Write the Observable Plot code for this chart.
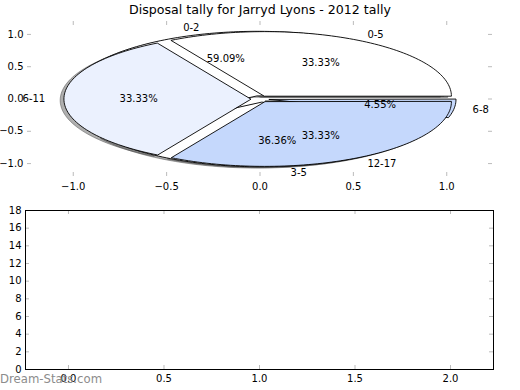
<!DOCTYPE html>
<html><head><meta charset="utf-8">
<script src="https://cdn.jsdelivr.net/npm/d3@7"></script>
<script src="https://cdn.jsdelivr.net/npm/@observablehq/plot@0.6"></script>
<style>
body{margin:0;background:#fff;}
#wrap{position:relative;width:520px;height:390px;font-family:"DejaVu Sans",sans-serif;color:#000;}
#wrap svg{position:absolute;left:0;overflow:visible;}
#title{position:absolute;left:0;width:520px;top:2px;text-align:center;font-size:12.6px;line-height:16px;}
#mark{position:absolute;left:0;top:372px;font-size:11.7px;line-height:14px;color:#8c8c8c;z-index:2;}
</style>
</head><body>
<div id="wrap"><div id="title">Disposal tally for Jarryd Lyons - 2012 tally</div><div id="mark">Dream-Stats.com</div></div>
<script>
// Data
const title = "Disposal tally for Jarryd Lyons - 2012 tally";
const pieALabels = ["0-2", "3-5", "6-8"];
const pieAValues = [13, 8, 1];
const pieAColors = ["#ffffff", "#ffffff", "#c5d8fc"];
const pieBLabels = ["0-5", "6-11", "12-17"];
const pieBValues = [1, 1, 1];
const pieBColors = ["#ffffff", "#ebf1fe", "#c5d8fc"];
const explode = 0.05;
const xTicksTop = [-1, -0.5, 0, 0.5, 1];
const yTicksTop = [-1, -0.5, 0, 0.5, 1];
const xTicksBottom = [0, 0.5, 1, 1.5, 2];
const yTicksBottom = [0, 2, 4, 6, 8, 10, 12, 14, 16, 18];

function wedges(labels, values, colors) {
  const total = d3.sum(values);
  let acc = 0;
  return labels.map((label, i) => {
    const t1 = acc / total * 360; acc += values[i]; const t2 = acc / total * 360;
    const tm = (t1 + t2) / 2 * Math.PI / 180;
    const cx = explode * Math.cos(tm), cy = explode * Math.sin(tm);
    const n = Math.max(4, Math.ceil((t2 - t1) / 1.5));
    const pts = [{x: cx, y: cy}];
    for (let k = 0; k <= n; k++) {
      const a = (t1 + (t2 - t1) * k / n) * Math.PI / 180;
      pts.push({x: cx + Math.cos(a), y: cy + Math.sin(a)});
    }
    return {
      label, color: colors[i], pts,
      pct: d3.format(".2f")(values[i] / total * 100) + "%",
      lx: cx + 1.1 * Math.cos(tm), ly: cy + 1.1 * Math.sin(tm),
      px: cx + 0.6 * Math.cos(tm), py: cy + 0.6 * Math.sin(tm)
    };
  });
}
const A = wedges(pieALabels, pieAValues, pieAColors);
const B = wedges(pieBLabels, pieBValues, pieBColors);
const all = A.concat(B);

const tickColor = "#bbbbbb";
const fmt = d3.format(".1f");

// Top panel (pie)
const topW = 520, topH = 190, tm = {top: 21, right: 28, bottom: 14, left: 27};
const tIH = topH - tm.top - tm.bottom, tIW = topW - tm.left - tm.right;
const shadowMarks = all.map(w => Plot.line(w.pts, {
  x: d => d.x - 0.02, y: d => d.y - 0.02, curve: "linear-closed",
  fill: "#4d4d4d", fillOpacity: 0.45, stroke: "#4d4d4d", strokeOpacity: 0.5, strokeWidth: 1
}));
const wedgeMarks = all.map(w => Plot.line(w.pts, {
  x: "x", y: "y", curve: "linear-closed", fill: w.color, stroke: "black", strokeWidth: 0.9
}));
const topPlot = Plot.plot({
  width: topW, height: topH,
  marginTop: tm.top, marginRight: tm.right, marginBottom: tm.bottom, marginLeft: tm.left,
  style: {fontFamily: "DejaVu Sans", fontSize: "10px", background: "transparent", overflow: "visible"},
  x: {domain: [-1.245, 1.245], ticks: xTicksTop, tickFormat: fmt, tickSize: 0, tickPadding: 6, label: null},
  y: {domain: [-1.2, 1.2], ticks: yTicksTop, tickFormat: fmt, tickSize: 0, tickPadding: 4, label: null},
  marks: [
    Plot.ruleX(xTicksTop, {x: d => d, insetBottom: tIH - 4, stroke: tickColor}),
    Plot.ruleX(xTicksTop, {x: d => d, insetTop: tIH - 4, stroke: tickColor}),
    Plot.ruleY(yTicksTop, {y: d => d, insetRight: tIW - 4, stroke: tickColor}),
    Plot.ruleY(yTicksTop, {y: d => d, insetLeft: tIW - 4, stroke: tickColor}),
    ...shadowMarks,
    ...wedgeMarks,
    Plot.text(all.filter(w => w.lx > 0), {x: "lx", y: "ly", text: "label", textAnchor: "start", fontSize: 10}),
    Plot.text(all.filter(w => w.lx <= 0), {x: "lx", y: "ly", text: "label", textAnchor: "end", fontSize: 10}),
    Plot.text(all, {x: "px", y: "py", text: "pct", textAnchor: "middle", fontSize: 10})
  ]
});
topPlot.style.top = "0px";

// Bottom panel (empty axes)
const botW = 520, botH = 200, bm = {top: 20, right: 27, bottom: 21, left: 25};
const bIH = botH - bm.top - bm.bottom, bIW = botW - bm.left - bm.right;
const botPlot = Plot.plot({
  width: botW, height: botH,
  marginTop: bm.top, marginRight: bm.right, marginBottom: bm.bottom, marginLeft: bm.left,
  style: {fontFamily: "DejaVu Sans", fontSize: "10px", background: "transparent", overflow: "visible"},
  x: {domain: [-0.225, 2.225], ticks: xTicksBottom, tickFormat: fmt, tickSize: 0, tickPadding: 5, label: null},
  y: {domain: [0, 18], ticks: yTicksBottom, tickFormat: d3.format("d"), tickSize: 0, tickPadding: 4, label: null},
  marks: [
    Plot.ruleX(xTicksBottom, {x: d => d, insetBottom: bIH - 4, stroke: tickColor}),
    Plot.ruleX(xTicksBottom, {x: d => d, insetTop: bIH - 4, stroke: tickColor}),
    Plot.ruleY(yTicksBottom, {y: d => d, insetRight: bIW - 4, stroke: tickColor}),
    Plot.ruleY(yTicksBottom, {y: d => d, insetLeft: bIW - 4, stroke: tickColor}),
    Plot.frame({stroke: "black", strokeWidth: 1})
  ]
});
botPlot.style.top = "190px";

const wrap = document.getElementById("wrap");
wrap.appendChild(topPlot);
wrap.appendChild(botPlot);
</script>
</body></html>
